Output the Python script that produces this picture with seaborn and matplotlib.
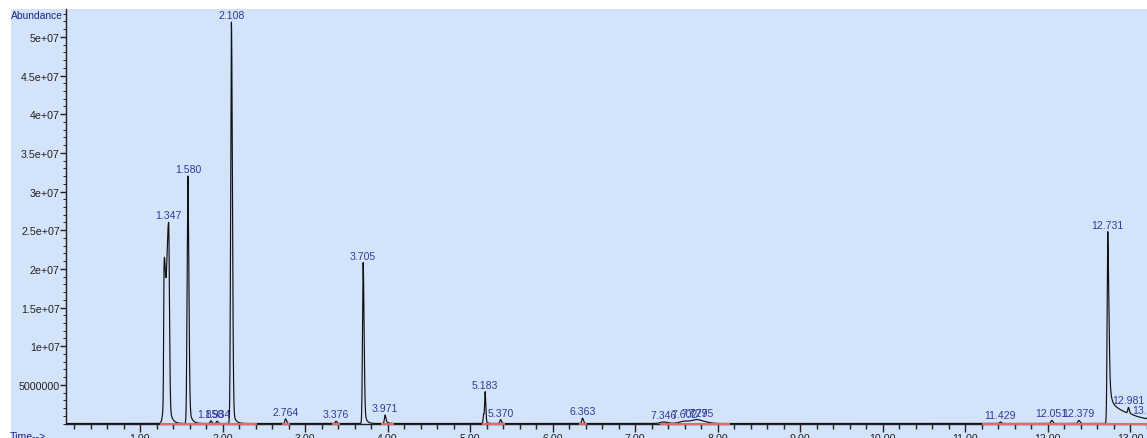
import numpy as np
import pandas as pd
import matplotlib
matplotlib.use("Agg")
import matplotlib.pyplot as plt
import seaborn as sns
from matplotlib.patches import Rectangle
from matplotlib.ticker import MultipleLocator, FixedLocator, FixedFormatter, FormatStrFormatter

# ---- peak table (retention time in min, apex abundance) ----
peak_rt = [1.292, 1.347, 1.580, 1.858, 1.934, 2.108, 2.764, 3.376, 3.705, 3.971,
           5.165, 5.183, 5.370, 6.363, 7.346, 7.602, 7.727, 7.795,
           11.429, 12.051, 12.379, 12.731, 12.981, 13.218]
peak_label = ["", "1.347", "1.580", "1.858", "1.934", "2.108", "2.764", "3.376", "3.705", "3.971",
              "", "5.183", "5.370", "6.363", "7.346", "7.602", "7.727", "7.795",
              "11.429", "12.051", "12.379", "12.731", "12.981", "13.218"]
peak_height = [1.6e7, 2.6e7, 3.2e7, 3.5e5, 3.0e5, 5.19e7, 6.0e5, 3.0e5, 2.08e7, 1.1e6,
               1.2e6, 4.1e6, 5.0e5, 7.0e5, 2.0e5, 3.0e5, 3.0e5, 3.0e5,
               2.0e5, 4.0e5, 4.0e5, 2.48e7, 8.0e5, 3.0e5]
# front / back half-widths (min)
peak_front = [0.005, 0.030, 0.009, 0.008, 0.008, 0.009, 0.008, 0.008, 0.008, 0.008,
              0.006, 0.006, 0.008, 0.008, 0.040, 0.060, 0.050, 0.060,
              0.008, 0.010, 0.010, 0.008, 0.008, 0.008]
peak_back = [0.014, 0.010, 0.012, 0.012, 0.012, 0.012, 0.012, 0.012, 0.011, 0.010,
             0.006, 0.008, 0.012, 0.012, 0.050, 0.060, 0.050, 0.080,
             0.012, 0.014, 0.014, 0.013, 0.010, 0.012]
# tailing: fast and slow exponential fractions with their decay constants (min)
tail_fast = [0.0, 0.12, 0.10, 0.0, 0.0, 0.05, 0.0, 0.0, 0.12, 0.30,
             0.0, 0.10, 0.0, 0.0, 0.0, 0.0, 0.0, 0.0,
             0.0, 0.0, 0.0, 0.32, 0.30, 0.0]
tau_fast = [0.03, 0.03, 0.03, 0.03, 0.03, 0.03, 0.03, 0.03, 0.025, 0.03,
            0.03, 0.02, 0.03, 0.03, 0.03, 0.03, 0.03, 0.03,
            0.03, 0.03, 0.03, 0.02, 0.03, 0.03]
tail_slow = [0.0] * 21 + [0.12, 0.0, 0.0]
tau_slow = [0.3] * 24

# integration baselines (start, end) in min
baseline_start = [1.24, 2.72, 3.33, 3.92, 5.14, 6.32, 7.30, 11.20]
baseline_end = [2.42, 2.82, 3.42, 4.08, 5.42, 6.42, 8.15, 13.25]

ytick_values = [5e6, 1e7, 1.5e7, 2e7, 2.5e7, 3e7, 3.5e7, 4e7, 4.5e7, 5e7]
ytick_labels = ["5000000", "1e+07", "1.5e+07", "2e+07", "2.5e+07", "3e+07",
                "3.5e+07", "4e+07", "4.5e+07", "5e+07"]

BG = "#d3e3fa"
TRACE = "#111111"
RED = "#e06a6a"
PEAK_TXT = "#35399a"
NAVY = "#22228a"
INK = "#222222"

# ---- build the total ion chromatogram from the peak table ----
t = np.arange(0.10, 13.26, 0.001)
signal = np.zeros_like(t)
for rt, h, wf, wb, af, tf, asl, ts in zip(peak_rt, peak_height, peak_front, peak_back,
                                          tail_fast, tau_fast, tail_slow, tau_slow):
    dt = t - rt
    front = h * np.exp(-0.5 * (dt / wf) ** 2)
    dtp = np.clip(dt, 0, None)
    back = (h * (1 - af - asl) * np.exp(-0.5 * (dtp / wb) ** 2)
            + h * af * np.exp(-dtp / tf) + h * asl * np.exp(-dtp / ts))
    signal += np.where(dt < 0, front, back)

df = pd.DataFrame({"time": t, "abundance": signal})

sns.set_theme(style="white")
plt.rcParams["font.family"] = ["Liberation Sans", "DejaVu Sans"]

W, H = 1147, 439
fig = plt.figure(figsize=(W / 100, H / 100), dpi=100)
fig.patch.set_facecolor("white")
fig.patches.append(Rectangle((11 / W, 0), 1 - 11 / W, (H - 10) / H,
                             transform=fig.transFigure, facecolor=BG,
                             edgecolor="none", zorder=-1))
ax = fig.add_axes([66 / W, (H - 424.5) / H, 1 - 66 / W, (424.5 - 10) / H])
ax.set_facecolor(BG)

sns.lineplot(data=df, x="time", y="abundance", ax=ax, color=TRACE,
             lw=0.85, estimator=None, sort=False, zorder=2)

for s, e in zip(baseline_start, baseline_end):
    ax.plot([s, e], [0, 0], color=RED, lw=1.5, solid_capstyle="butt",
            zorder=3, clip_on=False)

ax.set_xlim(0.103, 13.206)
ax.set_ylim(0, 5.36e7)
ax.set_xlabel("")
ax.set_ylabel("")

for side in ("top", "right"):
    ax.spines[side].set_visible(False)
for side in ("left", "bottom"):
    ax.spines[side].set_color(INK)
    ax.spines[side].set_linewidth(1.0)

ax.xaxis.set_major_locator(MultipleLocator(1))
ax.xaxis.set_major_formatter(FormatStrFormatter("%.2f"))
ax.xaxis.set_minor_locator(MultipleLocator(0.2))
ax.yaxis.set_major_locator(FixedLocator(ytick_values))
ax.yaxis.set_major_formatter(FixedFormatter(ytick_labels))
ax.yaxis.set_minor_locator(MultipleLocator(1e6))

ax.tick_params(axis="both", which="both", bottom=True, left=True,
               direction="out", color=INK, labelcolor=INK, labelsize=7.7, width=1)
ax.tick_params(axis="x", which="major", length=6, pad=1)
ax.tick_params(axis="x", which="minor", length=3.5)
ax.tick_params(axis="y", which="major", length=4, pad=0.5)
ax.tick_params(axis="y", which="minor", length=2, width=0.7)

# retention time labels above each integrated peak
for rt, lab in zip(peak_rt, peak_label):
    if not lab:
        continue
    i = np.searchsorted(t, rt)
    lo, hi = max(i - 5, 0), min(i + 6, len(t))
    apex = signal[lo:hi].max()
    ax.annotate(lab, (rt, apex), xytext=(0, 1.5), textcoords="offset points",
                ha="center", va="bottom", fontsize=7.6, color=PEAK_TXT,
                annotation_clip=False, zorder=4)

fig.text(11 / W, 1 - 16 / H, "Abundance", ha="left", va="center",
         fontsize=7.4, color=NAVY)
fig.text(10 / W, 1 - 437 / H, "Time-->", ha="left", va="center",
         fontsize=7.6, color=NAVY)

fig.savefig("out.png", dpi=100)
